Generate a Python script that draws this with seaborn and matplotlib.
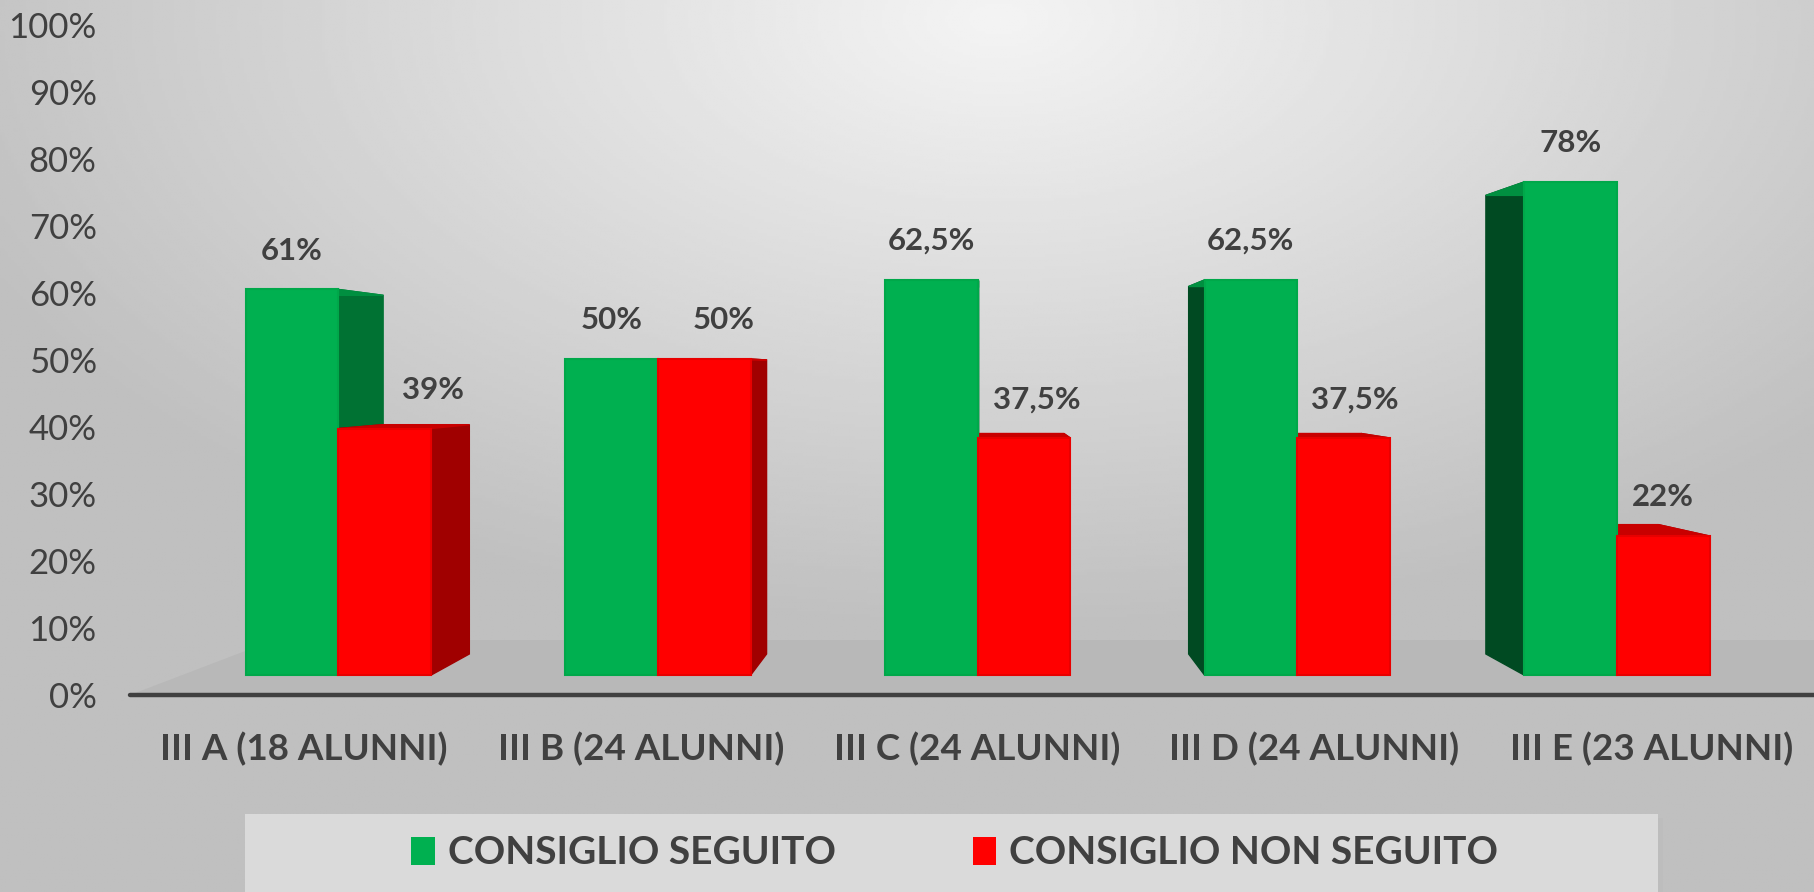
import numpy as np
import pandas as pd
import seaborn as sns
import matplotlib.pyplot as plt
from matplotlib.patches import Polygon, Rectangle

# Dati
classi = ["III A (18 ALUNNI)", "III B (24 ALUNNI)", "III C (24 ALUNNI)",
          "III D (24 ALUNNI)", "III E (23 ALUNNI)"]
serie = ["CONSIGLIO SEGUITO", "CONSIGLIO NON SEGUITO"]
seguito = [61, 50, 62.5, 62.5, 78]
non_seguito = [39, 50, 37.5, 37.5, 22]
etichette_seguito = ["61%", "50%", "62,5%", "62,5%", "78%"]
etichette_non_seguito = ["39%", "50%", "37,5%", "37,5%", "22%"]
tick_y = [0, 10, 20, 30, 40, 50, 60, 70, 80, 90, 100]

# spostamento orizzontale delle etichette (punti), come nell'originale
sposta_seguito = [0, 0, 0, 0, 0]
sposta_non_seguito = [35, 14, 9, 8, 0]

colori = {"CONSIGLIO SEGUITO": "#00B050", "CONSIGLIO NON SEGUITO": "#FF0000"}
bordi = {"CONSIGLIO SEGUITO": "#00A84A", "CONSIGLIO NON SEGUITO": "#E80000"}
lato_sx = {"CONSIGLIO SEGUITO": "#004A22", "CONSIGLIO NON SEGUITO": "#8C0000"}
lato_dx = {"CONSIGLIO SEGUITO": "#007233", "CONSIGLIO NON SEGUITO": "#A00000"}
cime = {"CONSIGLIO SEGUITO": "#008F40", "CONSIGLIO NON SEGUITO": "#C80000"}

df = pd.DataFrame({
    "Classe": classi * 2,
    "Serie": [serie[0]] * len(classi) + [serie[1]] * len(classi),
    "Valore": seguito + non_seguito,
})

sns.set_theme(style="white")
plt.rcParams['font.family'] = ['Lato', 'DejaVu Sans']
GRIGIO = "#404040"

fig = plt.figure(figsize=(18.15, 8.92), dpi=100)

# sfondo sfumato
bg = fig.add_axes([0, 0, 1, 1], zorder=0)
yy, xx = np.mgrid[0:1:300j, 0:1:600j]
dist = np.sqrt(((xx - 0.55) * 1.0) ** 2 + ((yy - 0.02) * 0.9) ** 2)
grad = np.clip(0.955 - 0.33 * dist, 0.75, 0.955)
bg.imshow(grad, cmap="gray", vmin=0, vmax=1, extent=(0, 1, 0, 1), origin="upper", aspect="auto")
bg.add_patch(Rectangle((250 / 1815, 0), 1413 / 1815, 74 / 892, transform=bg.transAxes,
                       facecolor="#BDBDBD", edgecolor="none"))
bg.add_patch(Rectangle((245 / 1815, 0), 1413 / 1815, 78 / 892, transform=bg.transAxes,
                       facecolor="#DADADA", edgecolor="none"))
bg.set_xlim(0, 1)
bg.set_ylim(0, 1)
bg.axis("off")

ax = fig.add_axes([130 / 1815, 1 - 694.5 / 892, 1 - 130 / 1815, (694.5 - 25.5) / 892], zorder=1)
ax.patch.set_alpha(0)

sns.barplot(data=df, x="Classe", y="Valore", hue="Serie", palette=colori,
            width=0.58, ax=ax, legend=False, saturation=1, zorder=3)

ax.set_xlim(-0.652, 4.62)
ax.set_ylim(0, 100)

# prospettiva 3D semplificata
VX, EYE = 2.0, 48.0
BASE, K = 2.9, 0.945
S_BAR, S_FLOOR, S_FRONT = 0.93, 0.83, 1.054


def prospettiva(x, y, s):
    return VX + s * (x - VX), EYE + s * (y - EYE)


# pavimento
x0, x1 = ax.get_xlim()
fl = [(x0, 0), (x1, 0), prospettiva(x1, 0, S_FLOOR), prospettiva(x0, 0, S_FLOOR)]
fl[2] = (x1, fl[2][1])
ax.add_patch(Polygon(fl, closed=True, facecolor="#B8B8B8", edgecolor="none", zorder=1))
ax.axhline(0, xmin=0, xmax=1, color=GRIGIO, lw=3.2, zorder=4, clip_on=False)

for nome, cont, etichette, sposta in zip(serie, ax.containers,
                                         [etichette_seguito, etichette_non_seguito],
                                         [sposta_seguito, sposta_non_seguito]):
    for barra, testo, dx in zip(cont, etichette, sposta):
        h = barra.get_height()
        bx = barra.get_x()
        bw = barra.get_width()
        barra.set_y(BASE)
        barra.set_height(K * h)
        barra.set_edgecolor(bordi[nome])
        barra.set_linewidth(1.5)
        yb, yt = BASE, BASE + K * h
        fronte = {"bl": (bx, yb), "br": (bx + bw, yb), "tl": (bx, yt), "tr": (bx + bw, yt)}
        retro = {k: prospettiva(*v, S_BAR) for k, v in fronte.items()}
        facce = [
            (["bl", "tl"], lato_sx[nome]),
            (["br", "tr"], lato_dx[nome]),
            (["tl", "tr"], cime[nome]),
        ]
        for (a, b), col in facce:
            quad = [fronte[a], fronte[b], retro[b], retro[a]]
            ax.add_patch(Polygon(quad, closed=True, facecolor=col, edgecolor=col,
                                 lw=1.0, zorder=2))
        ax.annotate(testo, (bx + bw / 2, yt), xytext=(dx, 28), textcoords="offset points",
                    ha="center", va="center", fontsize=22.5, fontweight="bold", color=GRIGIO,
                    zorder=10)

# etichette delle categorie sul bordo anteriore del pavimento
pos = [prospettiva(i, 0, S_FRONT)[0] for i in range(len(classi))]
ax.set_xticks(pos)
ax.set_xticklabels(classi)
ax.set_yticks(tick_y)
ax.set_yticklabels([f"{v}%" for v in tick_y])
ax.tick_params(axis="y", length=0, pad=24, labelsize=25, labelcolor=GRIGIO)
ax.tick_params(axis="x", length=0, pad=27, labelsize=26.5, labelcolor=GRIGIO)
for lab in ax.get_xticklabels():
    lab.set_fontweight("bold")
ax.set_xlim(x0, x1)
ax.set_xlabel("")
ax.set_ylabel("")
for sp in ax.spines.values():
    sp.set_visible(False)
ax.grid(False)

maniglie = [Rectangle((0, 0), 1, 1, facecolor=colori[s], edgecolor="none") for s in serie]
leg = fig.legend(maniglie, serie, loc="center", bbox_to_anchor=(955 / 1815, 1 - 853 / 892),
                 ncol=2, frameon=False, handlelength=0.6, handleheight=0.7,
                 handletextpad=0.35, columnspacing=3.5,
                 prop={"size": 28, "weight": "bold"})
for t in leg.get_texts():
    t.set_color(GRIGIO)

fig.savefig("out.png", dpi=100)
